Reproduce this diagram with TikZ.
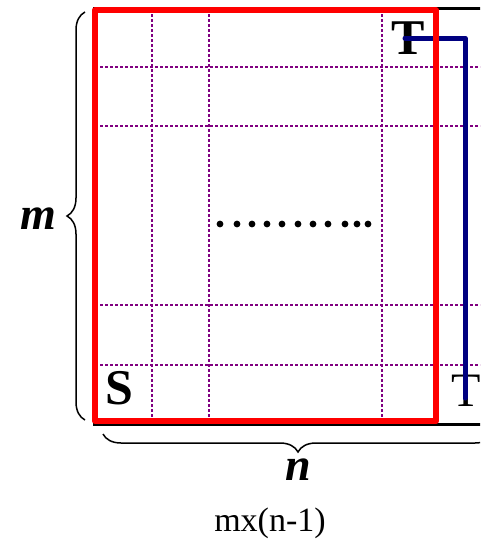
\documentclass[tikz,border=0pt]{standalone}
\usepackage{fontspec}
\setmainfont{Liberation Serif}
\usetikzlibrary{decorations.pathreplacing}
\definecolor{gridpurple}{RGB}{128,0,128}
\definecolor{pathblue}{RGB}{0,0,128}
\tikzset{
  gridline/.style={gridpurple,line width=1.2pt,dash pattern=on 3pt off 2pt},
  redbox/.style={draw=red,line width=6pt,line join=round},
  blackline/.style={black,line width=3pt},
  bluepath/.style={pathblue,line width=5pt,line cap=round,line join=round},
  bracestyle/.style={decorate,decoration={brace,amplitude=18pt},line width=1.5pt},
  bigbold/.style={font=\fontsize{50}{54}\selectfont\bfseries,inner sep=0pt},
  dimlabel/.style={font=\fontsize{46}{50}\selectfont\bfseries\itshape,inner sep=0pt},
  caption/.style={font=\fontsize{34}{38}\selectfont,inner sep=0pt}
}
\begin{document}
\begin{tikzpicture}[x=1pt,y=-1pt]
\useasboundingbox (0,0) rectangle (480,541);
\begin{scope}
\clip (0,0) rectangle (480,541);
% black outer rectangle (partially visible)
\draw[blackline] (93,8) -- (500,8);
\draw[blackline] (93,424) -- (500,424);
% grid lines
\foreach \x in {152,209,382} \draw[gridline] (\x,9) -- (\x,422);
\foreach \y in {67,126,305,365} \draw[gridline] (95,\y) -- (480,\y);
% labels T
\node[bigbold] (ttop) at (408,38) {T};
\node[font=\fontsize{48}{52}\selectfont,inner sep=0pt] (tbot) at (466,391) {T};
% blue path
\coordinate (b1) at (405,38);
\coordinate (b2) at (465,38);
\coordinate (b3) at (465,398);
\draw[bluepath] (b1) -- (b2) -- (b3);
% red rectangle
\draw[redbox] (95,10) rectangle (436,421);
% S
\node[bigbold] (s) at (119,388) {S};
% dots
\foreach \x in {220,237,252,267,282,298,313,328,345,357,368}
  \fill (\x,224) circle (3.4pt);
% braces
\draw[bracestyle] (85,420) -- (85,12);
\draw[bracestyle] (493,434) -- (103,434);
\end{scope}
\node[dimlabel] (m) at (38,219) {m};
\node[dimlabel] (n) at (298,470) {n};
\node[caption] (cap) at (270,523) {mx(n-1)};
\end{tikzpicture}
\end{document}
